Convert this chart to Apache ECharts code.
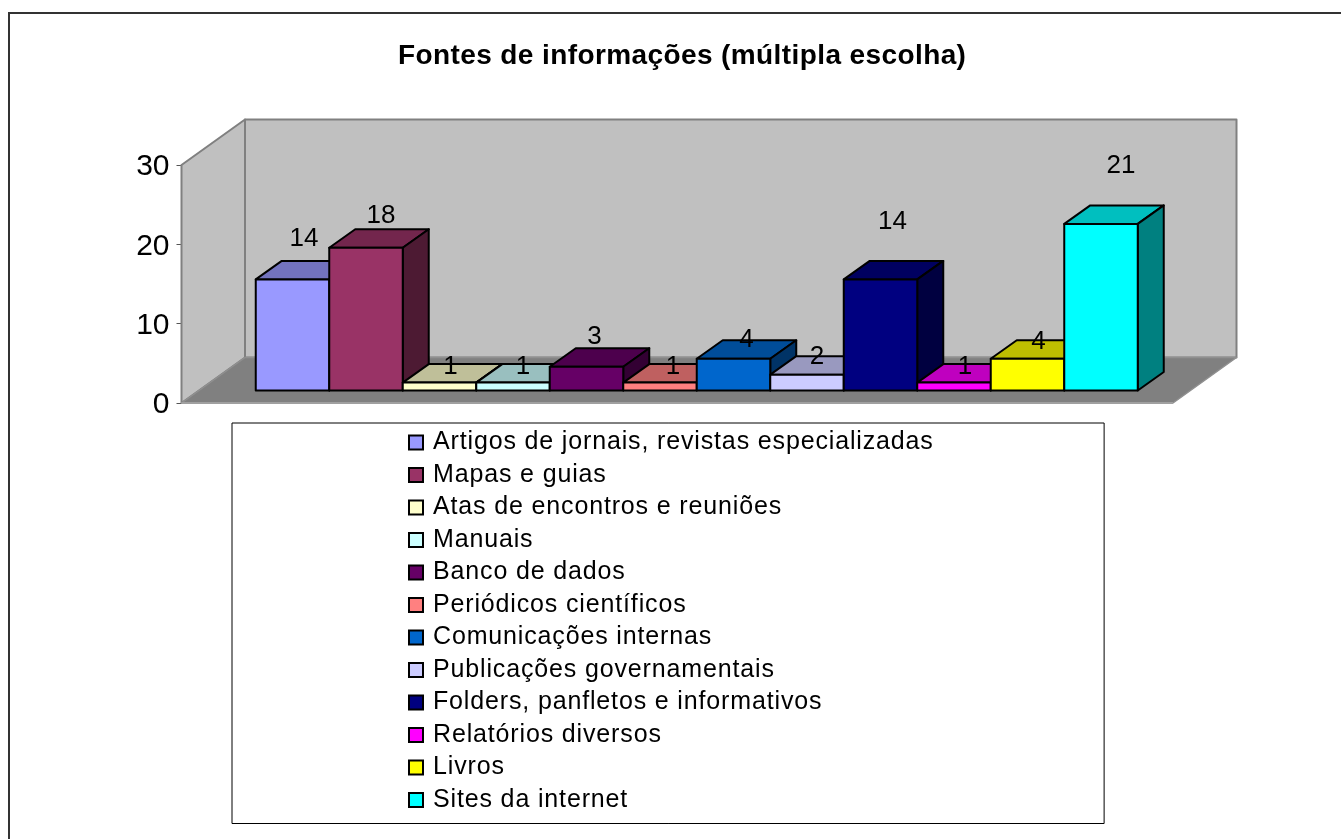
<!DOCTYPE html>
<html>
<head>
<meta charset="utf-8">
<style>html,body{margin:0;padding:0;background:#fff}#c{width:1341px;height:839px}</style>
<script src="https://cdn.jsdelivr.net/npm/echarts@6/dist/echarts.min.js"></script>
</head>
<body>
<div id="c"></div>
<script>
const titleText = 'Fontes de informações (múltipla escolha)';
const seriesNames = ['Artigos de jornais, revistas especializadas','Mapas e guias','Atas de encontros e reuniões','Manuais','Banco de dados','Periódicos científicos','Comunicações internas','Publicações governamentais','Folders, panfletos e informativos','Relatórios diversos','Livros','Sites da internet'];
const seriesValues = [14,18,1,1,3,1,4,2,14,1,4,21];
const seriesColors = ['#9999FF','#993366','#FFFFCC','#CCFFFF','#660066','#FF8080','#0066CC','#CCCCFF','#000080','#FF00FF','#FFFF00','#00FFFF'];
const categories = [''];
const yTicks = {min:0,max:30,interval:10};
// hand-placed label offsets (dx,dy from the bar's front-top centre), as in the original
const labelNudgeX = [11.5,15,11,10,8,13,13,10,12,11,11,20];
const labelNudgeY = [-41,-32,-16,-16,-30,-16,-19,-17.5,-58,-16,-17,-58];

const FONT = '"Liberation Sans", Arial, sans-serif';
const floorDX = 63.5, floorDY = -45.5;    // full depth of the chart box
const barFrontDX = 17.5, barFrontDY = -12.5; // bar front plane
const barDepthDX = 26, barDepthDY = -18.5;   // bar depth
const clusterRatio = 882/991.5;

// The original's text is stretched horizontally: widen legend and title glyph spacing.
(function(){
  const proto = CanvasRenderingContext2D.prototype, ft = proto.fillText;
  proto.fillText = function(t,x,y,m){
    const f = this.font;
    this.letterSpacing = /bold/.test(f) ? '0.4px' : /\b25px/.test(f) ? '0.85px' : '0px';
    return m === undefined ? ft.call(this,t,x,y) : ft.call(this,t,x,y,m);
  };
})();

function shade(hex,f){
  const n=parseInt(hex.slice(1),16);
  const c=[(n>>16)&255,(n>>8)&255,n&255].map(v=>Math.round(v*f));
  return 'rgb('+c.join(',')+')';
}
function poly(points,fill,stroke,w){
  return {type:'polygon',shape:{points},style:{fill,stroke,lineWidth:w,lineJoin:'round'}};
}

function renderWalls(params,api){
  const cs=params.coordSys;
  const x0=cs.x,y0=cs.y,x1=cs.x+cs.width,y1=cs.y+cs.height;
  const dx=floorDX,dy=floorDY,edge='#808080';
  return {type:'group',children:[
    poly([[x0+dx,y0+dy],[x1+dx,y0+dy],[x1+dx,y1+dy],[x0+dx,y1+dy]],'#C0C0C0',edge,2),
    poly([[x0,y0],[x0+dx,y0+dy],[x0+dx,y1+dy],[x0,y1]],'#C0C0C0',edge,2),
    poly([[x0,y1],[x0+dx,y1+dy],[x1+dx,y1+dy],[x1,y1]],'#808080','#909090',1.5),
    {type:'line',shape:{x1:x0,y1:y1,x2:x1,y2:y1},style:{stroke:'#A0A0A0',lineWidth:2}}
  ]};
}

function makeBar(idx){
  return function(params,api){
    const band=api.size([1,0])[0];
    const cluster=band*clusterRatio;
    const w=cluster/seriesNames.length;
    const c=api.coord([0,api.value(1)]);
    const base=api.coord([0,0]);
    const left=c[0]+2-cluster/2+idx*w+barFrontDX;
    const right=left+w;
    const top=c[1]+barFrontDY;
    const bot=base[1]+barFrontDY;
    const dx=barDepthDX,dy=barDepthDY,col=seriesColors[idx];
    return {type:'group',children:[
      poly([[left,top],[left+dx,top+dy],[right+dx,top+dy],[right,top]],shade(col,.75),'#000',2),
      poly([[right,top],[right+dx,top+dy],[right+dx,bot+dy],[right,bot]],shade(col,.5),'#000',2),
      poly([[left,top],[right,top],[right,bot],[left,bot]],col,'#000',2),
      {type:'text',z2:100,style:{
        x:(left+right)/2+labelNudgeX[idx],y:top+labelNudgeY[idx],
        text:String(api.value(1)),fill:'#000',font:'26px '+FONT,align:'center',verticalAlign:'middle'}}
    ]};
  };
}

const series=[{
  name:'__walls',type:'custom',coordinateSystem:'cartesian2d',silent:true,
  renderItem:renderWalls,data:[[0,0]],clip:false,z:1
}].concat(seriesNames.map((name,i)=>({
  name,type:'custom',coordinateSystem:'cartesian2d',
  renderItem:makeBar(i),
  encode:{x:0,y:1},
  data:[[0,seriesValues[i]]],
  clip:false,z:2,
  itemStyle:{color:seriesColors[i],borderColor:'#000',borderWidth:2}
})));

const chart=echarts.init(document.getElementById('c'),null,{renderer:'canvas'});
chart.setOption({
  animation:false,
  backgroundColor:'#fff',
  title:{text:titleText,left:398,top:42,
    textStyle:{fontFamily:FONT,fontSize:28,fontWeight:'bold',color:'#000'},padding:0},
  grid:{left:181.5,top:165,width:991.5,height:238,containLabel:false},
  xAxis:{type:'category',data:categories,axisLine:{show:false},axisTick:{show:false},axisLabel:{show:false},splitLine:{show:false}},
  yAxis:{type:'value',min:yTicks.min,max:yTicks.max,interval:yTicks.interval,
    axisLine:{show:true,lineStyle:{color:'#808080',width:1.5}},
    axisTick:{show:true,length:5,lineStyle:{color:'#555',width:1}},
    splitLine:{show:false},
    axisLabel:{fontFamily:FONT,fontSize:30,color:'#000',margin:12,verticalAlign:'top',lineHeight:4}},
  legend:{
    show:true,orient:'vertical',left:232,top:423,
    data:seriesNames,
    icon:'rect',itemWidth:14,itemHeight:14,itemGap:7.5,
    padding:[7,207,11,176],
    borderColor:'#000',borderWidth:1,backgroundColor:'#fff',
    selectedMode:false,
    itemStyle:{borderColor:'#000',borderWidth:2},
    textStyle:{fontFamily:FONT,fontSize:25,lineHeight:24,color:'#000',padding:[0,0,0,5]}
  },
  graphic:[
    {type:'line',silent:true,shape:{x1:8,y1:13,x2:1341,y2:13},style:{stroke:'#333',lineWidth:2}},
    {type:'line',silent:true,shape:{x1:9,y1:12,x2:9,y2:839},style:{stroke:'#333',lineWidth:2}}
  ],
  series
});
</script>
</body>
</html>
